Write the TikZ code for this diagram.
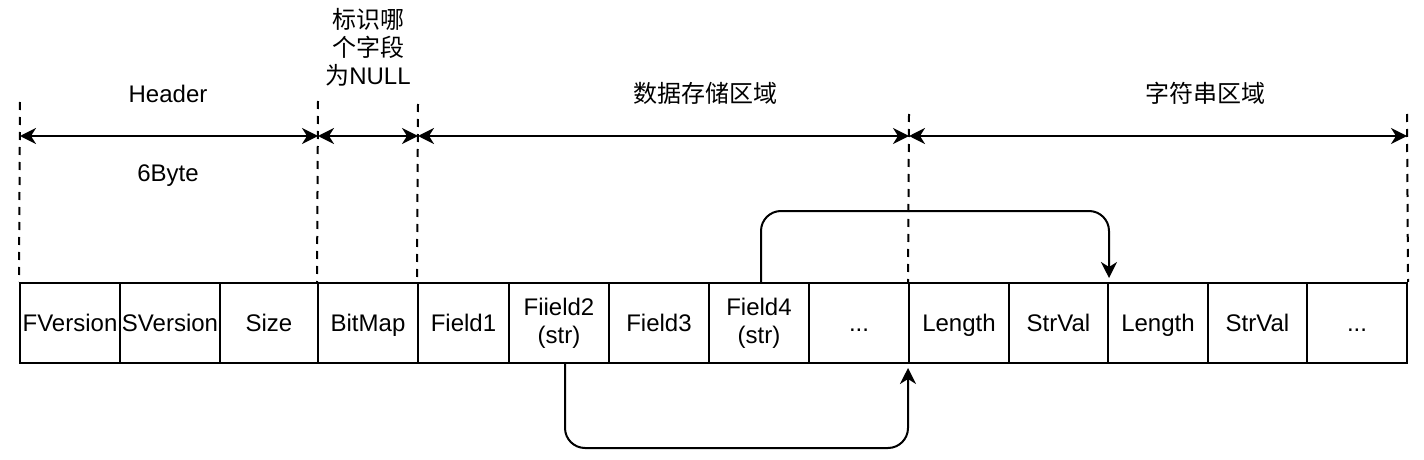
\documentclass[tikz,border=0pt]{standalone}
\usepackage{fontspec}
\setmainfont{Liberation Sans}
\newfontfamily\cjk{Noto Sans CJK SC}
\usetikzlibrary{arrows.meta,calc}
\newcommand{\cellstrut}{\rule[-2.6pt]{0pt}{13.8pt}}
\begin{document}
\begin{tikzpicture}[x=0.5pt,y=-0.5pt,
  cell/.style={draw,line width=1pt,minimum height=40pt,inner sep=0pt,font=\fontsize{12}{14}\selectfont,align=center,execute at begin node=\cellstrut},
  lbl/.style={font=\fontsize{12}{14}\selectfont,align=center,inner sep=0pt,execute at begin node=\cellstrut},
  guide/.style={line width=1pt,dash pattern=on 4pt off 3.5pt},
  span/.style={line width=1pt,{Stealth[length=8pt,width=8pt,inset=2.5pt]}-{Stealth[length=8pt,width=8pt,inset=2.5pt]}},
  link/.style={line width=1pt,rounded corners=10pt,-{Stealth[length=8pt,width=8pt,inset=2.5pt]}}]
\useasboundingbox (0,0) rectangle (1424,460);
% cells
\node[cell,minimum width=50pt]   (c1)  at (70,323)    {FVersion};
\node[cell,minimum width=50pt]   (c2)  at (170,323)   {SVersion};
\node[cell,minimum width=49pt]   (c3)  at (269,323)   {Size};
\node[cell,minimum width=50pt]   (c4)  at (368,323)   {BitMap};
\node[cell,minimum width=45.5pt] (c5)  at (463.5,323) {Field1};
\node[cell,minimum width=50pt]   (c6)  at (559,323)   {Fiield2\\(str)};
\node[cell,minimum width=50pt]   (c7)  at (659,323)   {Field3};
\node[cell,minimum width=50pt]   (c8)  at (759,323)   {Field4\\(str)};
\node[cell,minimum width=50pt]   (c9)  at (859,323)   {...};
\node[cell,minimum width=50pt]   (c10) at (959,323)   {Length};
\node[cell,minimum width=49.5pt] (c11) at (1058.5,323){StrVal};
\node[cell,minimum width=50pt]   (c12) at (1158,323)  {Length};
\node[cell,minimum width=49.5pt] (c13) at (1257.5,323){StrVal};
\node[cell,minimum width=50pt]   (c14) at (1357,323)  {...};
% guide tops
\coordinate (g1) at (20,102);
\coordinate (g2) at (318,101);
\coordinate (g3) at (418,104);
\coordinate (g4) at (909,114);
\coordinate (g5) at (1407,114);
\draw[guide] (g1) -- (c1.north west);
\draw[guide] (g2) -- (c4.north west);
\draw[guide] (g3) -- (c5.north west);
\draw[guide] (g4) -- (c10.north west);
\draw[guide] (g5) -- (c14.north east);
% spans
\coordinate (a1) at (20,136);
\coordinate (a2) at (318,136);
\coordinate (a3) at (418,136);
\coordinate (a4) at (909,136);
\coordinate (a5) at (1407,136);
\draw[span] (a1) -- (a2);
\draw[span] (a2) -- (a3);
\draw[span] (a3) -- (a4);
\draw[span] (a4) -- (a5);
% labels
\node[lbl] (hdr) at (168,94) {Header};
\node[lbl] (six) at (168,173) {6Byte};
\node[lbl] (bm) at (368,49) {{\cjk 标识哪}\\{\cjk 个字段}\\{\cjk 为}NULL};
\node[lbl] (data) at (705,94) {\cjk 数据存储区域};
\node[lbl] (str) at (1205,94) {\cjk 字符串区域};
% links
\draw[link] ([xshift=1pt]c8.north) -- ++(0,-71) -| ([yshift=2pt]c11.north east);
\draw[link] ([xshift=3pt]c6.south) -- ++(0,84) -| ([yshift=-2pt]c10.south west);
\end{tikzpicture}
\end{document}
